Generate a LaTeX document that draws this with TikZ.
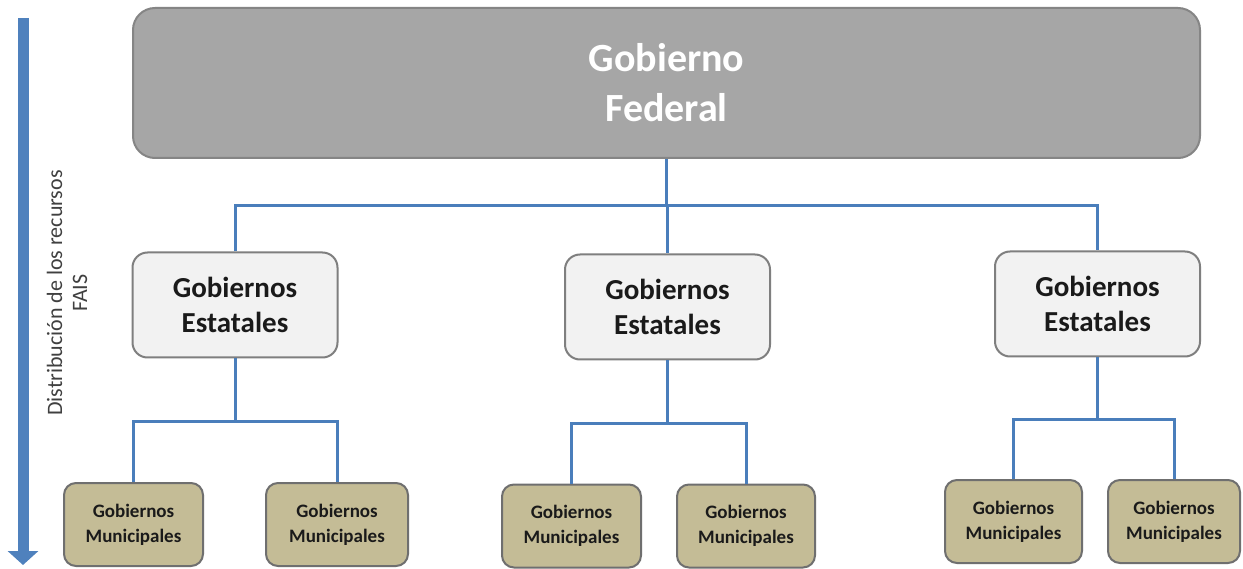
\documentclass[tikz,border=0pt]{standalone}
\usepackage{fontspec}
\setmainfont{Carlito}
\usetikzlibrary{arrows.meta}
\definecolor{topfill}{HTML}{A6A6A6}
\definecolor{topdraw}{HTML}{858585}
\definecolor{stfill}{HTML}{F2F2F2}
\definecolor{stdraw}{HTML}{7F7F7F}
\definecolor{mufill}{HTML}{C4BC96}
\definecolor{mudraw}{HTML}{6F6F6F}
\definecolor{conncol}{HTML}{4A7EBB}
\definecolor{arrcol}{HTML}{4F81BD}
\definecolor{txtcol}{HTML}{1A1A1A}
\tikzset{
  topbox/.style={draw=topdraw, fill=topfill, line width=2pt, rounded corners=22pt,
    minimum width=1067pt, minimum height=150pt, inner sep=0pt, align=center,
    text=white, font=\fontsize{40}{50}\selectfont\bfseries},
  statebox/.style={draw=stdraw, fill=stfill, line width=2pt, rounded corners=15pt,
    minimum width=205pt, minimum height=105pt, inner sep=0pt, align=center,
    text=txtcol, font=\fontsize{29}{35}\selectfont\bfseries},
  munbox/.style={draw=mudraw, fill=mufill, line width=2pt, rounded corners=12pt,
    minimum height=83pt, inner sep=0pt, align=center,
    text=txtcol, font=\fontsize{19}{25}\selectfont\bfseries},
  conn/.style={draw=conncol, line width=3pt},
  sidelabel/.style={rotate=90, align=center, inner sep=0pt, text=black!75, font=\fontsize{22}{25}\selectfont}
}
\begin{document}
\begin{tikzpicture}[x=1pt, y=-1pt]
\useasboundingbox[fill=white] (0,0) rectangle (1243,569);
% side arrow
\coordinate (aTop) at (23,18);
\coordinate (aBot) at (23,565);
\draw[arrcol, line width=11pt, -{Triangle[width=30pt,length=14pt]}] (aTop) -- (aBot);
\node[sidelabel] (lbl) at (67,293) {Distribución de los recursos\\FAIS};
% nodes
\node[topbox] (top) at (666.5,83) {Gobierno\\Federal};
\node[statebox] (sL) at (235,305) {Gobiernos\\Estatales};
\node[statebox] (sM) at (667.5,307) {Gobiernos\\Estatales};
\node[statebox] (sR) at (1097.5,304) {Gobiernos\\Estatales};
\node[munbox, minimum width=139pt] (mL1) at (133.5,524.5) {Gobiernos\\Municipales};
\node[munbox, minimum width=142pt] (mL2) at (337,524.5) {Gobiernos\\Municipales};
\node[munbox, minimum width=139pt] (mM1) at (571.5,526) {Gobiernos\\Municipales};
\node[munbox, minimum width=138pt] (mM2) at (746,526) {Gobiernos\\Municipales};
\node[munbox, minimum width=137pt] (mR1) at (1013.5,521.5) {Gobiernos\\Municipales};
\node[munbox, minimum width=132pt] (mR2) at (1174,521.5) {Gobiernos\\Municipales};
% connectors
\draw[conn] (top.south) -- ++(0,47) coordinate (j0);
\draw[conn] (sL.north) |- (j0) -| (sR.north);
\draw[conn] (j0) -| (sM.north);
\draw[conn] (sL.south) -- ++(0,63) coordinate (jL);
\draw[conn] (mL1.north) |- (jL) -| (mL2.north);
\draw[conn] (sM.south) -- ++(0,63) coordinate (jM);
\draw[conn] (mM1.north) |- (jM) -| (mM2.north);
\draw[conn] (sR.south) -- ++(0,62) coordinate (jR);
\draw[conn] (mR1.north) |- (jR) -| (mR2.north);
\end{tikzpicture}
\end{document}
